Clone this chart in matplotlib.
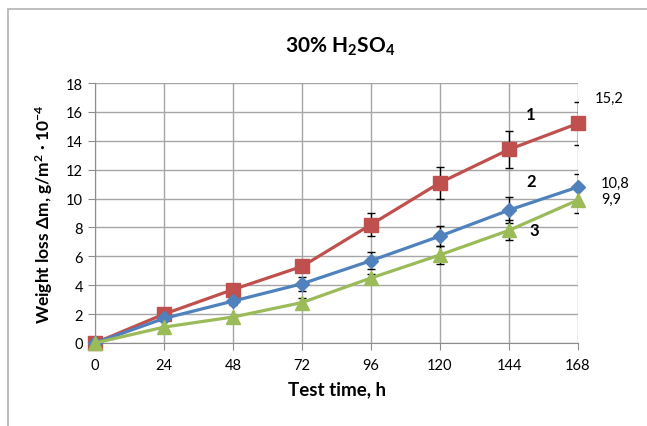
import numpy as np
import matplotlib.pyplot as plt
from matplotlib.patches import Rectangle

plt.rcParams['font.family'] = ['Lato', 'DejaVu Sans']
plt.rcParams['mathtext.fontset'] = 'custom'
plt.rcParams['mathtext.rm'] = 'Lato:bold'
plt.rcParams['mathtext.bf'] = 'Lato:bold'
plt.rcParams['mathtext.it'] = 'Lato:bold'

hours = [0, 24, 48, 72, 96, 120, 144, 168]
s1 = [0, 2.0, 3.7, 5.3, 8.2, 11.1, 13.4, 15.2]
s2 = [0, 1.7, 2.9, 4.1, 5.7, 7.4, 9.2, 10.8]
s3 = [0, 1.1, 1.8, 2.8, 4.5, 6.1, 7.8, 9.9]
err1 = [0, 0, 0, 0.4, 0.8, 1.1, 1.3, 1.5]
err2 = [0, 0, 0.3, 0.5, 0.6, 0.7, 0.9, 0.9]
err3 = [0, 0, 0, 0.3, 0.3, 0.6, 0.7, 0.9]

fig = plt.figure(figsize=(6.47, 4.27), dpi=100)
fig.patches.append(Rectangle((8/647, -0.5), 2, 1.5 - 10/427, transform=fig.transFigure,
                             fill=False, edgecolor='#b3b3b3', lw=1.2))
ax = fig.add_axes([95/647, 1 - 344/427, (578 - 95)/647, (344 - 84)/427])

series = [(s1, err1, '#C0504D', 's', 10), (s2, err2, '#4F81BD', 'D', 7), (s3, err3, '#9BBB59', '^', 10)]
for ys, er, c, m, ms in series:
    ax.errorbar(hours, ys, yerr=er, fmt='none', ecolor='black', elinewidth=1, capsize=3, capthick=1, zorder=2)
    ax.plot(hours, ys, color=c, marker=m, markersize=ms, lw=2.3, clip_on=False, zorder=3)

ax.set_xlim(0, 168)
ax.set_ylim(0, 18)
ax.set_xticks(hours)
ax.set_yticks(range(0, 19, 2))
ax.grid(True, color='#a6a6a6', lw=1)
ax.set_axisbelow(True)
for sp in ['top', 'right']:
    ax.spines[sp].set_visible(False)
for sp in ['left', 'bottom']:
    ax.spines[sp].set_color('#8c8c8c')
ax.tick_params(colors='#8c8c8c', length=5, labelcolor='black', labelsize=10.5)
ax.tick_params(axis='x', pad=6)

ax.text(150, 15.5, '1', fontsize=12, fontweight='bold')
ax.text(150, 10.9, '2', fontsize=12, fontweight='bold')
ax.text(151, 7.5, '3', fontsize=12, fontweight='bold')
ax.text(174, 16.7, '15,2', fontsize=10.5, clip_on=False)
ax.text(176, 10.8, '10,8', fontsize=10.5, clip_on=False)
ax.text(176, 9.7, '9,9', fontsize=10.5, clip_on=False)

ax.set_xlabel('Test time, h', fontsize=13.5, fontweight='bold', labelpad=6)
ax.set_ylabel('Weight loss Δm, g/m$^2$ · 10$^{-4}$', fontsize=12.5, fontweight='bold', labelpad=8)
fig.text(340/647, 1 - 47/427, '30% H$_2$SO$_4$', fontsize=15, fontweight='bold',
         ha='center', va='center')

fig.savefig('out.png', dpi=100)
